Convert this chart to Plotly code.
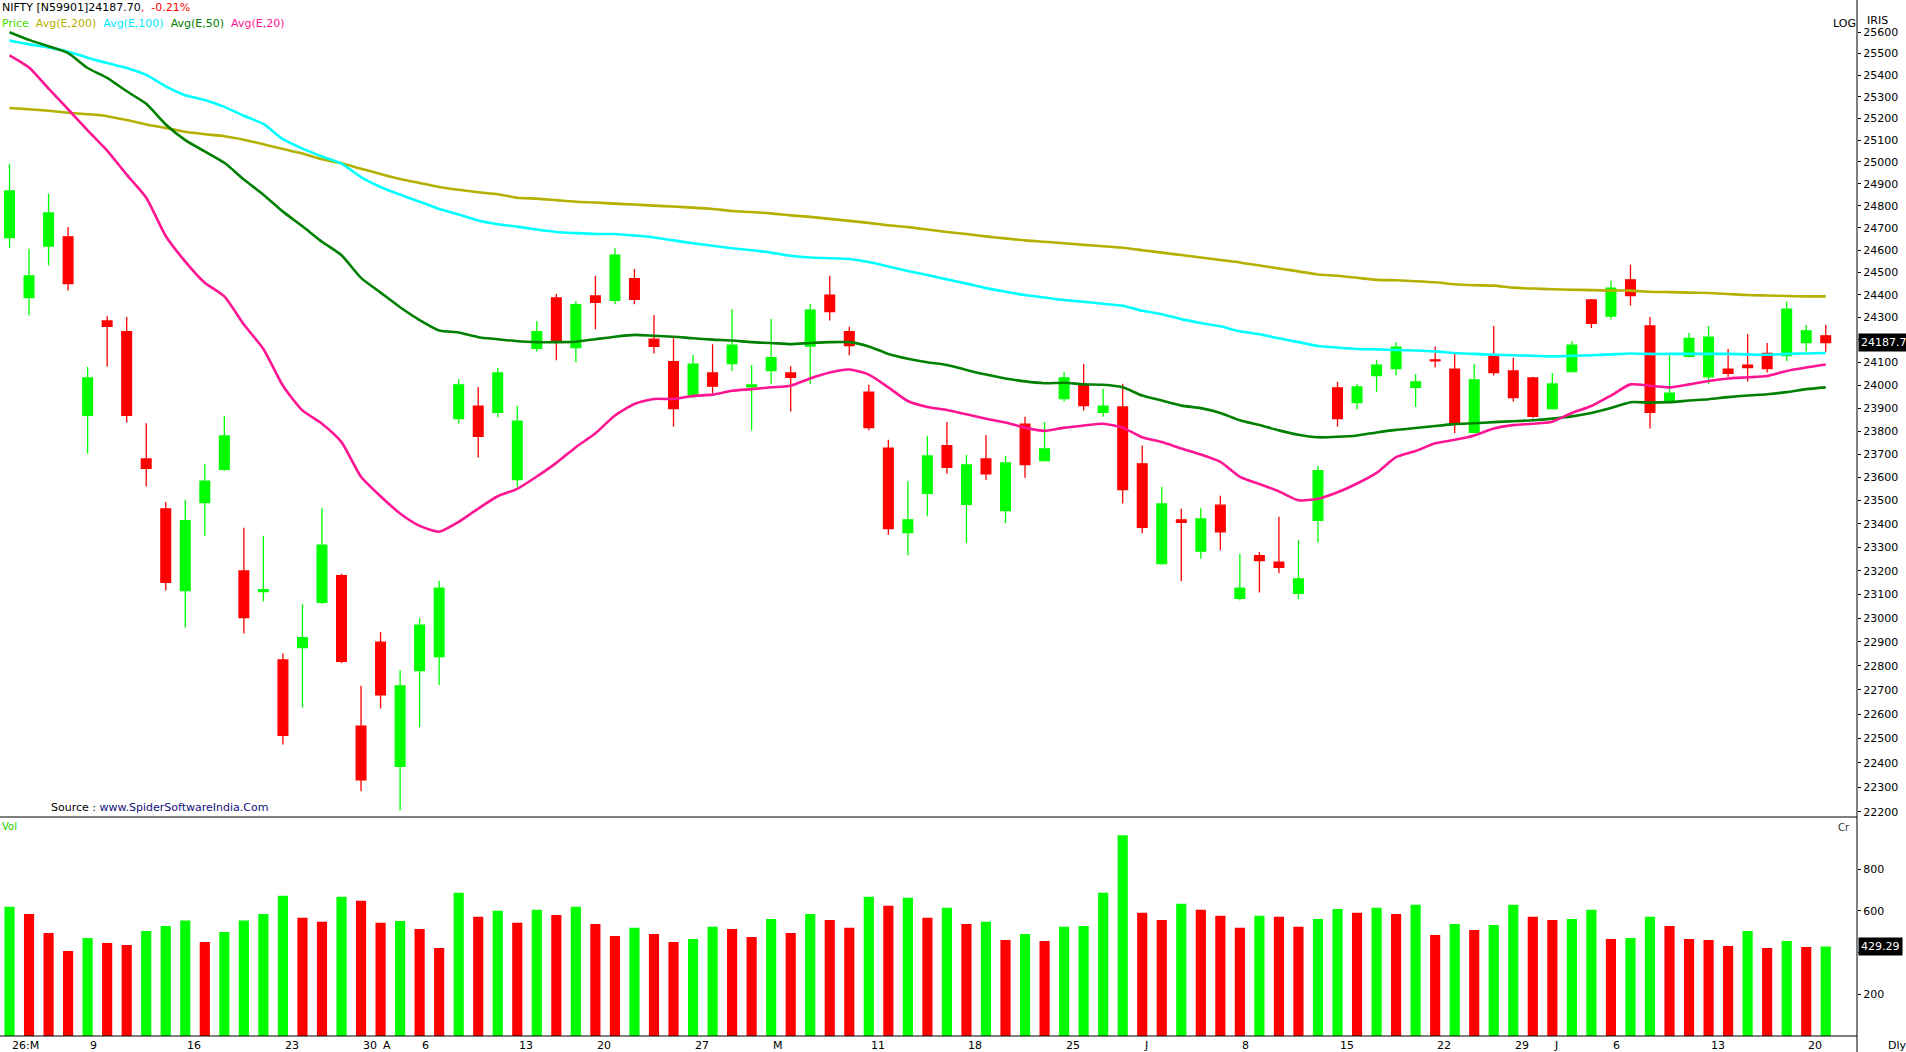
import math
import plotly.graph_objects as go

# ---------------- data ----------------
idx = list(range(94))

opens = [24657, 24388, 24618, 24660, 23868, 24284, 24236, 23679, 23464, 23116,
         23491, 23634, 23199, 23112, 22825, 22876, 23066, 23179, 22550, 22899,
         22385, 22780, 22839, 23854, 23909, 23881, 23590, 24162, 24386, 24166,
         24395, 24375, 24472, 24203, 24104, 23955, 24054, 24095, 23993, 24065,
         24054, 24173, 24399, 24236, 23970, 23726, 23362, 23531, 23737, 23483,
         23679, 23457, 23830, 23672, 23942, 24002, 23881, 23905, 23658, 23230,
         23417, 23283, 23480, 23083, 23264, 23237, 23104, 23415, 23989, 23924,
         24043, 24073, 23991, 24112, 24071, 23794, 24130, 24063, 24032, 23898,
         24060, 24377, 24305, 24467, 24262, 23933, 24127, 24037, 24071, 24089,
         24140, 24130, 24188, 24218]
highs = [24992, 24606, 24855, 24704, 24080, 24305, 24301, 23834, 23493, 23503,
         23658, 23866, 23383, 23349, 22852, 23060, 23468, 23187, 22717, 22942,
         22782, 23000, 23158, 24028, 23993, 24076, 23909, 24284, 24404, 24373,
         24485, 24609, 24516, 24310, 24207, 24134, 24181, 24336, 24089, 24292,
         24084, 24360, 24485, 24258, 24002, 23762, 23583, 23779, 23839, 23696,
         23783, 23692, 23862, 23839, 24058, 24093, 23985, 24007, 23737, 23558,
         23464, 23468, 23520, 23272, 23280, 23430, 23330, 23649, 24015, 24006,
         24112, 24190, 24050, 24171, 24138, 24093, 24262, 24121, 24037, 24054,
         24194, 24382, 24463, 24535, 24301, 24132, 24231, 24262, 24160, 24225,
         24186, 24369, 24266, 24266]
lows = [24609, 24308, 24531, 24419, 23702, 24082, 23837, 23560, 23116, 22961,
        23349, 23628, 22936, 23070, 22475, 22627, 23060, 22811, 22284, 22623,
        22205, 22546, 22721, 23833, 23685, 23860, 23558, 24149, 24110, 24101,
        24247, 24358, 24358, 24140, 23820, 23944, 23965, 24063, 23803, 24007,
        23885, 24004, 24286, 24132, 23803, 23353, 23266, 23432, 23615, 23318,
        23588, 23402, 23598, 23668, 23929, 23890, 23862, 23487, 23360, 23226,
        23156, 23251, 23287, 23074, 23108, 23189, 23079, 23320, 23820, 23894,
        23972, 24043, 23905, 24078, 23790, 23790, 24043, 23929, 23856, 23894,
        24056, 24253, 24290, 24353, 23811, 23920, 24123, 24006, 24037, 24017,
        24056, 24106, 24149, 24147]
closes = [24868, 24485, 24768, 24450, 24032, 24260, 23868, 23638, 23151, 23413,
          23583, 23779, 23002, 23120, 22512, 22918, 23309, 22819, 22330, 22680,
          22717, 22971, 23126, 24002, 23777, 24054, 23843, 24236, 24190, 24356,
          24367, 24578, 24380, 24171, 23898, 24093, 23996, 24177, 24002, 24121,
          24035, 24332, 24325, 24175, 23815, 23379, 23417, 23692, 23643, 23653,
          23615, 23662, 23655, 23722, 24032, 23911, 23909, 23547, 23385, 23485,
          23406, 23421, 23366, 23126, 23243, 23214, 23166, 23628, 23854, 23993,
          24089, 24168, 24015, 24107, 23834, 24024, 24056, 23946, 23864, 24006,
          24177, 24273, 24430, 24397, 23881, 23965, 24207, 24212, 24052, 24078,
          24073, 24336, 24240, 24187.70]

ema200 = [25248, 25242, 25235, 25226, 25219, 25210, 25192, 25172, 25156, 25138,
          25127, 25118, 25102, 25081, 25059, 25039, 25012, 24994, 24969, 24945,
          24922, 24904, 24886, 24873, 24862, 24853, 24837, 24833, 24826, 24819,
          24815, 24810, 24806, 24801, 24797, 24792, 24786, 24777, 24772, 24766,
          24757, 24750, 24741, 24732, 24723, 24712, 24704, 24693, 24682, 24673,
          24662, 24653, 24644, 24638, 24631, 24624, 24618, 24611, 24600, 24589,
          24578, 24567, 24556, 24545, 24531, 24518, 24505, 24491, 24485, 24476,
          24467, 24465, 24461, 24456, 24447, 24443, 24441, 24432, 24428, 24425,
          24423, 24421, 24419, 24419, 24414, 24412, 24410, 24408, 24404, 24399,
          24397, 24395, 24393, 24393]
ema100 = [25561, 25543, 25529, 25509, 25481, 25456, 25433, 25401, 25348, 25307,
          25285, 25253, 25212, 25174, 25104, 25061, 25025, 24992, 24931, 24886,
          24851, 24819, 24786, 24761, 24734, 24717, 24706, 24693, 24682, 24677,
          24673, 24673, 24666, 24657, 24644, 24631, 24620, 24609, 24600, 24589,
          24575, 24567, 24564, 24560, 24547, 24527, 24507, 24489, 24469, 24450,
          24430, 24414, 24399, 24388, 24377, 24369, 24360, 24351, 24329, 24314,
          24292, 24275, 24260, 24238, 24225, 24207, 24190, 24173, 24166, 24160,
          24158, 24155, 24153, 24149, 24142, 24138, 24134, 24132, 24130, 24127,
          24130, 24132, 24136, 24140, 24138, 24138, 24138, 24138, 24138, 24136,
          24134, 24138, 24140, 24142]
ema50 = [25600, 25564, 25534, 25502, 25433, 25387, 25325, 25267, 25172, 25100,
         25048, 24996, 24920, 24851, 24774, 24708, 24638, 24577, 24476, 24410,
         24345, 24288, 24242, 24233, 24212, 24203, 24194, 24190, 24190, 24192,
         24203, 24214, 24222, 24218, 24214, 24207, 24201, 24197, 24190, 24186,
         24181, 24186, 24190, 24190, 24171, 24138, 24117, 24101, 24089, 24067,
         24047, 24030, 24017, 24009, 24011, 24004, 24002, 23991, 23955, 23933,
         23911, 23900, 23879, 23847, 23826, 23803, 23784, 23773, 23775, 23781,
         23794, 23805, 23813, 23822, 23830, 23834, 23839, 23843, 23847, 23854,
         23864, 23879, 23900, 23926, 23924, 23926, 23933, 23939, 23948, 23955,
         23961, 23970, 23983, 23991]
ema20 = [25492, 25435, 25337, 25242, 25145, 25052, 24942, 24837, 24664, 24549,
         24454, 24393, 24268, 24160, 23998, 23890, 23832, 23752, 23602, 23518,
         23444, 23391, 23366, 23408, 23465, 23518, 23550, 23603, 23662, 23730,
         23790, 23868, 23918, 23940, 23940, 23953, 23959, 23976, 23983, 23991,
         23998, 24030, 24056, 24069, 24047, 23991, 23931, 23905, 23892, 23873,
         23854, 23837, 23815, 23801, 23815, 23824, 23832, 23815, 23773, 23752,
         23724, 23698, 23666, 23602, 23571, 23539, 23501, 23507, 23535, 23573,
         23619, 23687, 23713, 23747, 23762, 23781, 23811, 23826, 23832, 23841,
         23879, 23909, 23955, 24004, 23998, 23991, 24004, 24019, 24030, 24035,
         24041, 24063, 24078, 24091]

volume = [620, 586, 494, 408, 470, 446, 437, 504, 528, 554,
          451, 499, 554, 586, 673, 567, 548, 668, 649, 543,
          552, 514, 422, 688, 572, 601, 543, 606, 581, 620,
          538, 480, 519, 490, 451, 466, 524, 514, 475, 562,
          494, 586, 557, 519, 668, 625, 664, 567, 615, 538,
          548, 461, 490, 456, 524, 528, 688, 963, 591, 557,
          635, 606, 577, 519, 577, 572, 524, 562, 610, 591,
          615, 586, 630, 485, 538, 509, 533, 630, 572, 557,
          562, 606, 466, 470, 572, 528, 466, 461, 432, 504,
          422, 456, 427, 429.29]

date_labels = ["26:M", "9", "16", "23", "30", "A", "6", "13", "20", "27", "M", "11",
               "18", "25", "J", "8", "15", "22", "29", "J", "6", "13", "20"]
date_label_idx = [0, 4, 9, 14, 18, 19, 21, 26, 30, 35, 39, 44,
                  49, 54, 58, 63, 68, 73, 77, 79, 82, 87, 92]

price_ticks = list(range(22200, 25601, 100))
vol_ticks = [200, 400, 600, 800]
vol_ticktext = ["200", "", "600", "800"]

last_close = closes[-1]
last_volume = volume[-1]

# ---------------- layout constants ----------------
W, H = 1906, 1052
AX_X = 1857 / W
PRICE_BOTTOM = 1 - 817 / H
VOL_BOTTOM = 1 - 1036 / H
XR = [-0.487, 94.6]
FONT = "DejaVu Sans"

GREEN = "#00ff00"
RED = "#ff0000"
C200 = "#b4b000"
C100 = "#00ffff"
C50 = "#008000"
C20 = "#ff1493"

vol_colors = [GREEN] + [GREEN if volume[i] > volume[i - 1] else RED for i in range(1, len(volume))]

# price tick labels: the one hidden behind the last-price box is left blank
price_ticktext = ["" if abs(v - last_close) < 60 else str(v) for v in price_ticks]

fig = go.Figure()
fig.add_trace(go.Candlestick(
    x=idx, open=opens, high=highs, low=lows, close=closes,
    increasing=dict(line=dict(color=GREEN, width=1.3), fillcolor=GREEN),
    decreasing=dict(line=dict(color=RED, width=1.3), fillcolor=RED),
    whiskerwidth=0, xaxis="x", yaxis="y", showlegend=False, hoverinfo="skip"))

for vals, col in [(ema200, C200), (ema100, C100), (ema50, C50), (ema20, C20)]:
    fig.add_trace(go.Scatter(x=idx, y=vals, mode="lines",
                             line=dict(color=col, width=2.6, shape="spline", smoothing=0.6),
                             xaxis="x", yaxis="y", showlegend=False, hoverinfo="skip"))

fig.add_trace(go.Bar(x=idx, y=volume, marker=dict(color=vol_colors, line=dict(width=0)),
                     width=0.52, xaxis="x2", yaxis="y2", showlegend=False, hoverinfo="skip"))

axis_common = dict(showgrid=False, zeroline=False, showline=False, fixedrange=True)

fig.update_layout(
    width=W, height=H, margin=dict(l=0, r=0, t=0, b=0),
    template="none", paper_bgcolor="white", plot_bgcolor="white",
    showlegend=False, boxgap=0.29, boxgroupgap=0.3,
    font=dict(family=FONT, size=11, color="black"),
    xaxis=dict(domain=[0, AX_X], range=XR, anchor="y", showticklabels=False, ticks="",
               rangeslider=dict(visible=False), **axis_common),
    xaxis2=dict(domain=[0, AX_X], range=XR, anchor="y2", showticklabels=False, ticks="",
                **axis_common),
    yaxis=dict(domain=[PRICE_BOTTOM, 1], type="log",
               range=[math.log10(22179), math.log10(25751)],
               side="right", anchor="x", tickvals=price_ticks,
               ticktext=price_ticktext,
               ticks="outside", ticklen=3, tickcolor="black", tickwidth=1,
               tickfont=dict(family=FONT, size=11, color="black"),
               automargin=False, **axis_common),
    yaxis2=dict(domain=[VOL_BOTTOM, PRICE_BOTTOM], range=[0, 1051],
                side="right", anchor="x2", tickvals=vol_ticks, ticktext=vol_ticktext,
                ticks="outside", ticklen=3, tickcolor="black", tickwidth=1,
                tickfont=dict(family=FONT, size=11, color="black"),
                automargin=False, **axis_common),
)

line_style = dict(color="black", width=1)
fig.add_shape(type="line", xref="paper", yref="paper", x0=AX_X, x1=AX_X, y0=0, y1=1, line=line_style)
fig.add_shape(type="line", xref="paper", yref="paper", x0=0, x1=AX_X, y0=PRICE_BOTTOM, y1=PRICE_BOTTOM, line=line_style)
fig.add_shape(type="line", xref="paper", yref="paper", x0=0, x1=AX_X, y0=VOL_BOTTOM, y1=VOL_BOTTOM, line=line_style)


def ann(text, x, y, xref="paper", yref="paper", xanchor="left", size=11, color="black", **kw):
    fig.add_annotation(text=text, x=x, y=y, xref=xref, yref=yref, xanchor=xanchor,
                       yanchor="middle", showarrow=False,
                       font=dict(family=FONT, size=size, color=color), **kw)


ann('NIFTY [N59901]24187.70<span style="color:#ff0000">,&nbsp;&nbsp;-0.21%</span>',
    0, 1 - 8 / H)
legend_txt = ('<span style="color:#3fe000">Price</span>&nbsp;&nbsp;'
              f'<span style="color:{C200}">Avg(E,200)</span>&nbsp;&nbsp;'
              f'<span style="color:#00e8ff">Avg(E,100)</span>&nbsp;&nbsp;'
              f'<span style="color:{C50}">Avg(E,50)</span>&nbsp;&nbsp;'
              f'<span style="color:{C20}">Avg(E,20)</span>')
ann(legend_txt, 0, 1 - 23 / H)
ann("LOG", 1831 / W, 1 - 23 / H)
ann("IRIS", 1865 / W, 1 - 21 / H)
ann('Source : <span style="color:#10107a">www.SpiderSoftwareIndia.Com</span>', 49 / W, 1 - 807 / H)
ann("Vol", 0, 1 - 826 / H, size=10, color="#22cc00")
ann("Cr", 1836 / W, 1 - 827 / H, size=10, color="#333333")
ann("Dly", 1886 / W, 1 - 1045 / H)

# price / volume value boxes
fig.add_annotation(text=f"{last_close:.1f}", x=1858 / W, y=math.log10(last_close), xref="paper", yref="y",
                   xanchor="left", yanchor="middle", showarrow=False, bgcolor="black", borderpad=2,
                   font=dict(family=FONT, size=11, color="white"))
fig.add_annotation(text=f"{last_volume:.2f}", x=1858 / W, y=last_volume, xref="paper", yref="y2",
                   xanchor="left", yanchor="middle", showarrow=False, bgcolor="black", borderpad=2,
                   font=dict(family=FONT, size=11, color="white"))

for lab, i in zip(date_labels, date_label_idx):
    fig.add_annotation(text=lab, x=i, y=1 - 1045 / H, xref="x2", yref="paper", xanchor="left",
                       yanchor="middle", showarrow=False,
                       font=dict(family=FONT, size=11, color="black"))

fig.write_html("out.html")
